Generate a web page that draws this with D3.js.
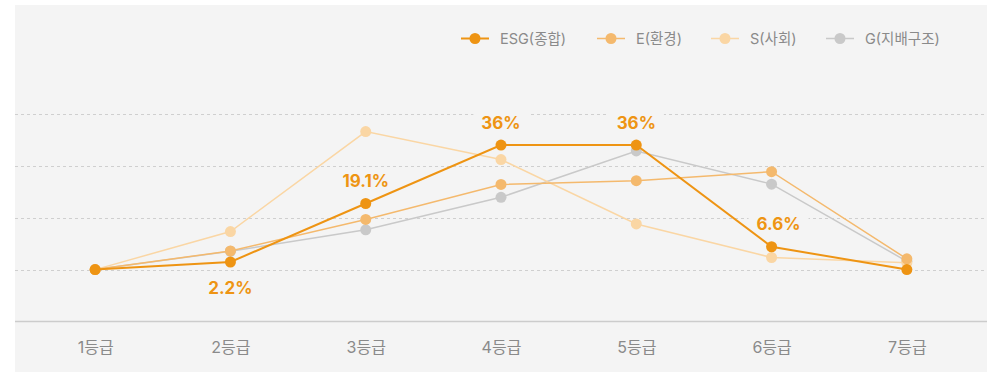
<!DOCTYPE html>
<html>
<head>
<meta charset="utf-8">
<script src="https://cdn.jsdelivr.net/npm/d3@7/dist/d3.min.js"></script>
<style>
  html, body { margin: 0; padding: 0; background: #ffffff; }
  svg { display: block; }
  text { font-family: Inter, "Noto Sans CJK KR", sans-serif; }
</style>
</head>
<body>
<svg id="chart" width="996" height="372"></svg>
<script>
// Grade distribution (%) per rating category
const grades = ["1등급", "2등급", "3등급", "4등급", "5등급", "6등급", "7등급"];
const esgTotal = [0, 2.2, 19.1, 36, 36, 6.6, 0];
const envValues = [0, 5.4, 14.5, 24.6, 25.7, 28.3, 3.1];
const socValues = [0, 11.0, 39.9, 31.8, 13.2, 3.5, 2.0];
const govValues = [0, 5.3, 11.5, 20.9, 34.3, 24.7, 2.4];
const seriesNames = ["ESG(종합)", "E(환경)", "S(사회)", "G(지배구조)"];
const gridTicks = [0, 15, 30, 45];

const series = [
  { name: seriesNames[0], values: esgTotal, color: "#ee9413", width: 2 },
  { name: seriesNames[1], values: envValues, color: "#f4b96d", width: 1.5 },
  { name: seriesNames[2], values: socValues, color: "#fad6a4", width: 1.5 },
  { name: seriesNames[3], values: govValues, color: "#c9c9c9", width: 1.5 }
];

const svg = d3.select("#chart");
const panel = { x0: 15, x1: 987, y0: 5, y1: 372 };
const panelFill = "#f4f4f4";

svg.append("rect")
  .attr("x", panel.x0).attr("y", panel.y0)
  .attr("width", panel.x1 - panel.x0).attr("height", panel.y1 - panel.y0)
  .attr("fill", panelFill);

const x = d3.scalePoint().domain(grades).range([27.5, 974.5]).padding(0.5);
const y = d3.scaleLinear().domain([-15, 60]).range([321.5, 62]);

// dashed horizontal grid
svg.append("g").selectAll("line").data(gridTicks).join("line")
  .attr("x1", panel.x0).attr("x2", panel.x1)
  .attr("y1", d => Math.round(y(d)) + 0.5).attr("y2", d => Math.round(y(d)) + 0.5)
  .attr("stroke", "#cfcfcf").attr("stroke-width", 1)
  .attr("stroke-dasharray", "3,3");

// x axis
const xAxis = svg.append("g")
  .attr("transform", `translate(0,${Math.round(y(-15)) - 0.5})`)
  .call(d3.axisBottom(x).tickSize(0).tickPadding(20));
xAxis.select(".domain").remove();
xAxis.append("line")
  .attr("x1", panel.x0).attr("x2", panel.x1)
  .attr("stroke", "#cccccc").attr("stroke-width", 1.5);
xAxis.selectAll(".tick text")
  .attr("font-size", 16).attr("fill", "#8a8a8a")
  .attr("font-family", "Inter, 'Noto Sans CJK KR', sans-serif");

// value labels on the ESG line (zero grades unlabeled); backgrounds mask the grid only
const esg = series[0];
const labelBg = svg.append("g");
const linesG = svg.append("g");
const labelG = svg.append("g");
esg.values.forEach((v, i) => {
  if (v === 0) return;
  const prev = esg.values[i - 1];
  const next = esg.values[i + 1];
  // small values rising steeply into the next grade get their label underneath
  const below = next - v > 10 && v < 5;
  // nudge right when the line drops steeply into the point
  const dx = prev - v > 10 ? 7 : 0;
  const t = labelG.append("text")
    .attr("x", x(grades[i]) + dx)
    .attr("y", y(v) + (below ? 26 : -22.5))
    .attr("text-anchor", "middle")
    .attr("dominant-baseline", "central")
    .attr("font-size", 17).attr("font-weight", 700)
    .attr("fill", esg.color)
    .text(`${v}%`);
  const bb = t.node().getBBox();
  labelBg.append("rect")
    .attr("x", bb.x - 8).attr("y", bb.y - 2)
    .attr("width", bb.width + 16).attr("height", bb.height + 4)
    .attr("fill", panelFill);
});

const line = d3.line()
  .x((d, i) => x(grades[i]))
  .y(d => y(d));

// lighter series first so the overall ESG line sits on top
[series[3], series[2], series[1], series[0]].forEach(s => {
  const g = linesG.append("g");
  g.append("path")
    .datum(s.values)
    .attr("d", line)
    .attr("fill", "none")
    .attr("stroke", s.color)
    .attr("stroke-width", s.width);
  g.selectAll("circle").data(s.values).join("circle")
    .attr("cx", (d, i) => x(grades[i]))
    .attr("cy", d => y(d))
    .attr("r", 5.5)
    .attr("fill", s.color);
});

// legend
const legendX = [461, 597, 711, 826];
const legend = svg.append("g");
series.forEach((s, i) => {
  const g = legend.append("g").attr("transform", `translate(${legendX[i]},38.5)`);
  g.append("line").attr("x1", 0).attr("x2", 28)
    .attr("stroke", s.color).attr("stroke-width", s.width);
  g.append("circle").attr("cx", 14).attr("r", 5.5).attr("fill", s.color);
  g.append("text").attr("x", 39).attr("y", 0)
    .attr("dominant-baseline", "central")
    .attr("font-size", 14.5).attr("fill", "#8a8a8a")
    .text(s.name);
});
</script>
</body>
</html>
